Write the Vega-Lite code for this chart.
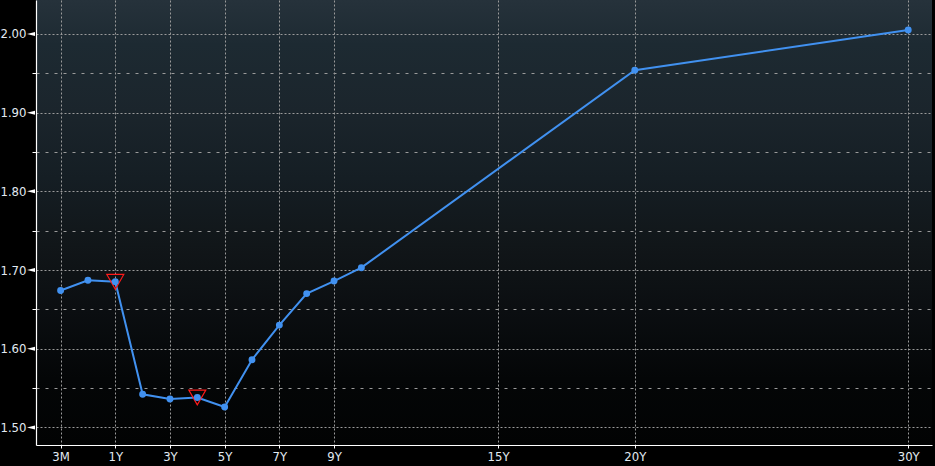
{
  "$schema": "https://vega.github.io/schema/vega-lite/v6.json",
  "width": 896,
  "height": 445,
  "autosize": {"type": "none"},
  "padding": {"left": 36, "top": 0, "right": 3, "bottom": 21},
  "background": "#000000",
  "config": {
    "view": {
      "stroke": null,
      "fill": {
        "gradient": "linear", "x1": 0, "y1": 0, "x2": 0, "y2": 1,
        "stops": [
          {"offset": 0, "color": "#26323b"},
          {"offset": 0.1, "color": "#1d2a32"},
          {"offset": 0.25, "color": "#1b252c"},
          {"offset": 0.4, "color": "#151e24"},
          {"offset": 0.55, "color": "#111619"},
          {"offset": 0.7, "color": "#0b0e11"},
          {"offset": 0.85, "color": "#040607"},
          {"offset": 1, "color": "#020303"}
        ]
      }
    },
    "axis": {
      "labelFont": "DejaVu Sans Condensed",
      "labelFontSize": 13,
      "labelColor": "#e2eaf2",
      "domainColor": "#ffffff",
      "domainWidth": 1.2,
      "tickColor": "#ffffff",
      "gridColor": "#9a9a9a",
      "gridOpacity": 1,
      "gridWidth": 1,
      "title": null
    }
  },
  "data": {
    "values": [
      {"tenor": "3M", "t": -1, "yield": 1.674, "flag": false},
      {"tenor": "6M", "t": 0, "yield": 1.687, "flag": false},
      {"tenor": "1Y", "t": 1, "yield": 1.685, "flag": true},
      {"tenor": "2Y", "t": 2, "yield": 1.542, "flag": false},
      {"tenor": "3Y", "t": 3, "yield": 1.536, "flag": false},
      {"tenor": "4Y", "t": 4, "yield": 1.538, "flag": true},
      {"tenor": "5Y", "t": 5, "yield": 1.526, "flag": false},
      {"tenor": "6Y", "t": 6, "yield": 1.586, "flag": false},
      {"tenor": "7Y", "t": 7, "yield": 1.630, "flag": false},
      {"tenor": "8Y", "t": 8, "yield": 1.670, "flag": false},
      {"tenor": "9Y", "t": 9, "yield": 1.686, "flag": false},
      {"tenor": "10Y", "t": 10, "yield": 1.703, "flag": false},
      {"tenor": "20Y", "t": 20, "yield": 1.954, "flag": false},
      {"tenor": "30Y", "t": 30, "yield": 2.005, "flag": false}
    ]
  },
  "layer": [
    {
      "mark": {"type": "line", "color": "#4191f0", "strokeWidth": 2},
      "encoding": {
        "x": {
          "field": "t", "type": "quantitative",
          "scale": {"domain": [-1.9, 30.87], "nice": false, "zero": false},
          "axis": {
            "values": [-1, 1, 3, 5, 7, 9, 15, 20, 30],
            "labelExpr": "datum.value == -1 ? '3M' : datum.value + 'Y'",
            "tickSize": 3,
            "labelPadding": 2,
            "grid": true,
            "gridDash": [2, 2]
          }
        },
        "y": {
          "field": "yield", "type": "quantitative",
          "scale": {"domain": [1.4776, 2.0432], "nice": false, "zero": false},
          "axis": {
            "values": [1.5, 1.55, 1.6, 1.65, 1.7, 1.75, 1.8, 1.85, 1.9, 1.95, 2.0],
            "labelExpr": "abs(datum.value * 10 - round(datum.value * 10)) < 0.01 ? format(datum.value, '.2f') : ''",
            "tickSize": 4,
            "tickColor": {"condition": {"test": "abs(datum.value * 10 - round(datum.value * 10)) < 0.01", "value": "transparent"}, "value": "#ffffff"},
            "labelPadding": 6,
            "grid": true,
            "gridDash": {"condition": {"test": "abs(datum.value * 10 - round(datum.value * 10)) < 0.01", "value": [2, 2]}, "value": [3, 6]}
          }
        }
      }
    },
    {
      "transform": [{"filter": "datum.flag"}],
      "mark": {"type": "point", "shape": "triangle-down", "size": 289, "stroke": "#ff1a1a", "strokeWidth": 1.2, "filled": false, "fill": "transparent", "opacity": 1},
      "encoding": {
        "x": {"field": "t", "type": "quantitative"},
        "y": {"field": "yield", "type": "quantitative"}
      }
    },
    {
      "mark": {"type": "circle", "color": "#4191f0", "size": 48, "opacity": 1},
      "encoding": {
        "x": {"field": "t", "type": "quantitative"},
        "y": {"field": "yield", "type": "quantitative"}
      }
    },
    {
      "data": {"values": [{"lvl": 1.5}, {"lvl": 1.6}, {"lvl": 1.7}, {"lvl": 1.8}, {"lvl": 1.9}, {"lvl": 2.0}]},
      "mark": {"type": "point", "shape": "M-1,0L1,-0.5L1,0.5Z", "size": 64, "filled": true, "color": "#ffffff", "opacity": 1, "clip": false, "xOffset": -5},
      "encoding": {
        "x": {"datum": -1.9, "type": "quantitative"},
        "y": {"field": "lvl", "type": "quantitative"}
      }
    }
  ]
}
